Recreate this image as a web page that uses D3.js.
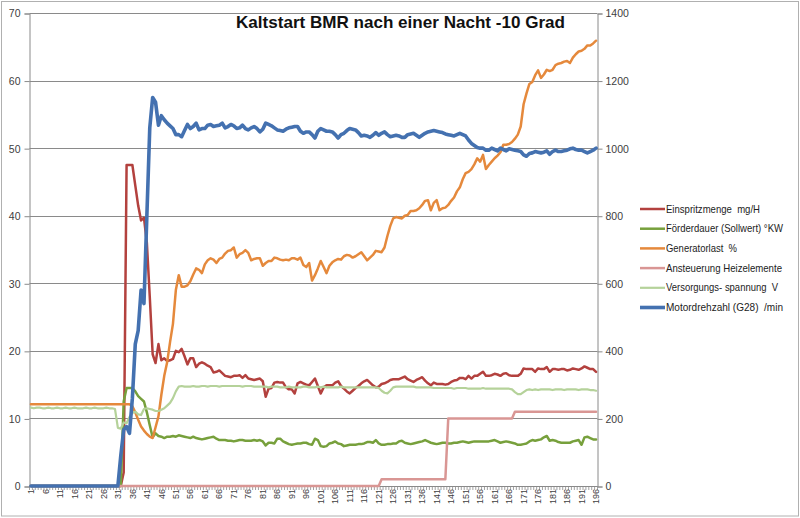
<!DOCTYPE html>
<html>
<head>
<meta charset="utf-8">
<script src="https://cdn.jsdelivr.net/npm/d3@7"></script>
<style>
  body { margin: 0; background: #fff; }
  text { font-family: "Liberation Sans", Arial, sans-serif; }
</style>
</head>
<body>
<svg id="chart" width="800" height="518"></svg>
<script>
// measurement index 1..196
var categories = d3.range(1, 197);

// left axis / right axis ticks
var leftTicks = [0, 10, 20, 30, 40, 50, 60, 70];
var rightTicks = [0, 200, 400, 600, 800, 1000, 1200, 1400];

// Einspritzmenge mg/H
var einspritzmenge = [
  0,0,0,0,0,0,0,0,0,0, 0,0,0,0,0,0,0,0,0,0, 0,0,0,0,0,0,0,0,0,0, 0,0,
  2,47.5,47.5,47.5,44.5,41.5,39.3,39.7,36,28,
  19.5,18.2,21,18.6,18.9,18.5,18.6,18.8,20,19.8,
  20.3,19.2,18,18.9,18.9,17.6,18.1,18.3,18.1,17.8,
  17.6,16.8,16.9,17.1,16.7,16.3,16.2,16.1,16.3,16.3,
  16.4,16.0,16.4,15.9,15.8,15.7,15.8,15.9,15.5,13.2,
  14.4,14.5,15.3,15.4,15.3,15.3,14.6,14.3,14.3,13.7,
  15.2,15.4,15.2,15.0,14.9,15.4,15.9,14.8,13.7,14.6,
  14.9,14.9,14.9,15.3,15.5,14.8,14.4,14.0,13.7,14.1,
  14.5,14.8,15.2,15.5,15.7,15.3,14.9,14.6,14.7,15.1,
  15.2,15.4,15.7,15.8,15.8,15.8,16.0,16.2,15.8,15.6,
  15.4,15.7,15.9,16.1,15.6,15.2,14.9,15.3,15.1,15.1,
  15.1,15.0,15.1,15.4,15.6,15.7,16.0,16.0,15.8,16.3,
  15.9,16.3,16.3,16.6,16.9,16.3,16.3,16.4,16.6,16.5,
  16.3,16.6,16.7,16.4,16.3,16.3,16.3,16.6,17.4,17.3,
  17.3,17.3,16.9,17.4,17.3,17.3,17.6,16.9,17.3,17.3,
  17.2,17.3,17.3,17.1,17.2,17.4,17.3,17.2,17.4,17.7,
  17.5,17.3,17.3,16.9
];

// Förderdauer (Sollwert) °KW
var foerderdauer = [
  0,0,0,0,0,0,0,0,0,0, 0,0,0,0,0,0,0,0,0,0, 0,0,0,0,0,0,0,0,0,0, 0,0,
  12.5,14.5,14.5,14.5,14.0,13.3,12.9,12.5,10.9,9.0,
  7.2,7.8,7.4,7.3,7.1,7.3,7.3,7.4,7.3,7.5,
  7.4,7.3,7.2,7.1,7.3,7.1,7.0,6.9,7.0,7.1,
  7.2,7.3,7.0,6.8,6.8,6.8,6.7,6.7,6.6,6.7,
  6.8,6.8,6.7,6.7,6.7,6.8,6.7,6.8,6.6,6.0,
  6.4,6.4,6.3,7.0,7.0,6.6,6.4,6.2,6.1,6.2,
  6.3,6.3,6.4,6.4,6.2,6.1,7.0,6.8,5.9,5.8,
  5.9,6.3,6.4,6.6,6.3,6.2,5.9,6.0,6.1,6.1,
  6.1,6.2,6.2,6.3,6.5,6.5,6.4,6.8,6.3,6.1,
  6.1,6.2,6.2,6.3,6.3,6.6,6.7,6.4,6.3,6.2,
  6.3,6.4,6.5,6.6,6.8,6.6,6.4,6.3,6.2,6.3,
  6.4,6.4,6.3,6.3,6.4,6.4,6.5,6.6,6.5,6.4,
  6.5,6.6,6.6,6.6,6.6,6.6,6.6,6.7,6.8,6.6,
  6.4,6.5,6.6,6.5,6.4,6.3,6.1,6.1,6.2,6.3,
  6.6,6.8,6.7,6.8,6.9,7.2,7.4,6.7,6.8,6.7,
  6.5,6.4,6.4,6.4,6.4,6.6,6.7,6.8,6.1,7.2,
  7.3,7.1,6.9,6.9
];

// Generatorlast %
var generatorlast = [
  12.1,12.1,12.1,12.1,12.1,12.1,12.1,12.1,12.1,12.1,
  12.1,12.1,12.1,12.1,12.1,12.1,12.1,12.1,12.1,12.1,
  12.1,12.1,12.1,12.1,12.1,12.1,12.1,12.1,12.1,12.1,
  12.1,12.1,12.1,12.1,12.1,
  11.8,10.9,9.8,8.8,8.2,7.7,7.3,7.1,8.7,10.3,
  13.5,16.3,18.3,21.3,24,29,31.2,29.5,29.5,29.7,
  30.3,31.3,32.2,32.0,31.5,32.8,33.4,33.7,33.5,33.0,
  33.6,33.8,34.4,34.8,34.9,35.3,33.8,34.3,34.5,34.9,
  34.5,33.4,33.6,33.7,33.7,32.6,33.0,33.3,33.3,33.8,
  33.7,33.5,33.4,33.5,33.4,33.7,33.7,33.5,33.8,32.7,
  32.4,33.0,30.4,31.2,32.2,33.3,32.4,31.5,32.6,33.1,
  33.4,33.6,33.5,34.0,34.2,34.1,33.8,34.0,34.3,34.6,
  34.0,33.4,33.8,34.2,34.8,34.7,34.6,35.3,37.0,38.5,
  39.6,39.8,39.7,39.6,40.0,40.1,40.7,40.7,40.8,41.1,
  41.6,42.2,42.3,40.8,41.9,42.3,40.8,41.1,41.2,41.6,
  42.2,42.7,43.6,44.2,45.4,46.3,46.5,46.9,47.6,48.5,
  48.0,49.0,46.9,47.5,48.0,48.5,48.9,49.4,50.5,50.5,
  50.6,50.9,51.4,52.0,53.2,56.5,58.1,59.5,59.8,60.8,
  61.5,60.4,60.9,61.6,61.4,61.6,62.3,62.5,62.6,62.8,
  62.9,62.6,63.4,63.9,64.3,64.4,64.7,65.2,65.2,65.5,
  65.9
];

// Ansteuerung Heizelemente (secondary axis)
var heizelemente = [
  0,0,0,0,0,0,0,0,0,0, 0,0,0,0,0,0,0,0,0,0, 0,0,0,0,0,0,0,0,0,0,
  0,0,0,0,0,0,0,0,0,0, 0,0,0,0,0,0,0,0,0,0, 0,0,0,0,0,0,0,0,0,0,
  0,0,0,0,0,0,0,0,0,0, 0,0,0,0,0,0,0,0,0,0, 0,0,0,0,0,0,0,0,0,0,
  0,0,0,0,0,0,0,0,0,0, 0,0,0,0,0,0,0,0,0,0, 0,0,0,0,0,0,0,0,0,0,
  0,
  20,20,20,20,20,20,20,20,20,20, 20,20,20,20,20,20,20,20,20,20, 20,20,20,
  200,200,200,200,200,200,200,200,200,200, 200,200,200,200,200,200,200,200,200,200, 200,200,200,
  220,220,220,220,220,220,220,220,220,220, 220,220,220,220,220,220,220,220,220,220,
  220,220,220,220,220,220,220,220,220
];

// Versorgungsspannung V
var versorgung = [
  11.6,11.5,11.6,11.6,11.5,11.5,11.6,11.5,11.5,11.6,
  11.5,11.5,11.6,11.5,11.5,11.6,11.5,11.5,11.5,11.6,
  11.5,11.5,11.6,11.5,11.5,11.5,11.6,11.5,11.5,11.4,
  8.6,8.5,9.4,9.3,10.2,10.8,11.0,10.6,10.5,11.4,
  11.5,11.4,11.3,11.1,11.1,11.3,11.5,11.9,12.3,13.0,
  14.0,14.7,14.8,14.7,14.7,14.7,14.8,14.7,14.7,14.8,
  14.8,14.7,14.8,14.8,14.8,14.7,14.8,14.8,14.8,14.8,
  14.8,14.8,14.8,14.7,14.8,14.8,14.8,14.7,14.7,14.7,
  14.7,14.7,14.6,14.7,14.7,14.7,14.6,14.6,14.6,14.7,
  14.6,14.6,14.6,14.6,14.7,14.7,14.6,14.6,14.6,14.7,
  14.6,14.7,14.6,14.6,14.6,14.6,14.6,14.7,14.6,14.6,
  14.6,14.6,14.6,14.6,14.6,14.6,14.6,14.6,14.6,14.6,
  14.5,14.1,13.8,13.7,14.1,14.6,14.7,14.7,14.7,14.7,
  14.7,14.7,14.7,14.6,14.6,14.6,14.6,14.6,14.6,14.5,
  14.5,14.5,14.5,14.5,14.5,14.5,14.4,14.5,14.5,14.5,
  14.5,14.4,14.4,14.4,14.4,14.4,14.5,14.4,14.4,14.4,
  14.4,14.4,14.4,14.4,14.4,14.4,14.3,13.9,13.6,13.6,
  13.9,14.2,14.3,14.2,14.3,14.2,14.3,14.3,14.3,14.3,
  14.2,14.3,14.3,14.3,14.2,14.3,14.3,14.3,14.3,14.2,
  14.3,14.3,14.3,14.2,14.2,14.1
];

// Motordrehzahl (G28) /min (secondary axis)
var drehzahl = [
  0,0,0,0,0,0,0,0,0,0, 0,0,0,0,0,0,0,0,0,0, 0,0,0,0,0,0,0,0,0,0, 0,
  90,166,176,156,260,420,460,580,540,
  800,1060,1150,1136,1068,1096,1084,1074,1066,1058,
  1040,1040,1034,1052,1070,1058,1064,1074,1054,1058,
  1058,1068,1070,1064,1066,1068,1074,1060,1064,1070,
  1066,1058,1060,1068,1058,1054,1060,1064,1058,1048,
  1056,1074,1070,1066,1060,1054,1052,1050,1056,1060,
  1062,1064,1064,1050,1044,1048,1048,1040,1030,1050,
  1058,1054,1050,1050,1048,1040,1030,1040,1044,1052,
  1058,1056,1054,1046,1036,1038,1036,1032,1038,1046,
  1038,1044,1048,1040,1034,1036,1038,1036,1032,1032,
  1040,1042,1044,1038,1032,1038,1044,1048,1050,1052,
  1050,1048,1046,1042,1040,1038,1036,1040,1044,1040,
  1036,1024,1014,1008,1002,1000,1000,994,994,1000,
  996,992,1000,996,992,998,996,994,992,990,
  980,976,984,986,990,988,986,988,992,982,
  990,994,990,990,992,994,998,1000,996,994,
  994,990,986,990,994,1000
];

var svg = d3.select("#chart");

// outer chart border
svg.append("rect")
  .attr("x", 1.5).attr("y", 1.5)
  .attr("width", 797).attr("height", 514.5)
  .attr("fill", "none")
  .attr("stroke", "#b0b0b0");

var plot = {left: 29.5, right: 597.5, top: 13, bottom: 486};

var x = d3.scaleBand()
  .domain(categories)
  .range([plot.left, plot.right]);

var yL = d3.scaleLinear().domain([0, 70]).range([plot.bottom, plot.top]);
var yR = d3.scaleLinear().domain([0, 1400]).range([plot.bottom, plot.top]);

// gridlines
svg.append("g")
  .selectAll("line")
  .data(leftTicks.slice(1))
  .enter().append("line")
    .attr("x1", plot.left).attr("x2", plot.right)
    .attr("y1", function(d) { return Math.round(yL(d)) + 0.5; })
    .attr("y2", function(d) { return Math.round(yL(d)) + 0.5; })
    .attr("stroke", "#8a8a8a");

// left axis
var leftAxis = svg.append("g")
  .attr("transform", "translate(" + plot.left + ",0.5)")
  .call(d3.axisLeft(yL).tickValues(leftTicks).tickSize(5).tickPadding(4));
// right axis
var rightAxis = svg.append("g")
  .attr("transform", "translate(" + plot.right + ",0.5)")
  .call(d3.axisRight(yR).tickValues(rightTicks).tickFormat(d3.format("d")).tickSize(5).tickPadding(3));

[leftAxis, rightAxis].forEach(function(a) {
  a.select(".domain").attr("stroke", "#8a8a8a");
  a.selectAll(".tick line").attr("stroke", "#8a8a8a");
  a.selectAll(".tick text")
    .style("font-size", "10.5px")
    .attr("fill", "#404040");
});

// x axis: line, a tick at every category boundary, a label every 5th
var xg = svg.append("g");
xg.append("line")
  .attr("x1", plot.left).attr("x2", plot.right)
  .attr("y1", plot.bottom + 0.5).attr("y2", plot.bottom + 0.5)
  .attr("stroke", "#8a8a8a");
xg.selectAll(".xt")
  .data(categories.concat([null]))
  .enter().append("line")
    .attr("class", "xt")
    .attr("x1", function(d) { return d === null ? plot.right : x(d); })
    .attr("x2", function(d) { return d === null ? plot.right : x(d); })
    .attr("y1", plot.bottom).attr("y2", plot.bottom + 4)
    .attr("stroke", "#8a8a8a")
    .attr("stroke-width", 0.8);
xg.selectAll(".xl")
  .data(categories.filter(function(d) { return (d - 1) % 5 === 0; }))
  .enter().append("text")
    .attr("class", "xl")
    .attr("transform", function(d) {
      return "translate(" + (x(d) + x.bandwidth() / 2) + "," + (plot.bottom + 3) + ") rotate(-90)";
    })
    .attr("text-anchor", "end")
    .attr("dy", "0.35em")
    .style("font-size", "9px")
    .attr("fill", "#404040")
    .text(function(d) { return d; });

// series table
var series = [
  {name: "Einspritzmenge  mg/H", values: einspritzmenge, y: yL, color: "#b3413e", width: 2.5, legEnd: 760},
  {name: "Förderdauer (Sollwert) °KW", values: foerderdauer, y: yL, color: "#77a03c", width: 2.5, legEnd: 783},
  {name: "Generatorlast  %", values: generatorlast, y: yL, color: "#e5893c", width: 2.5, legEnd: 737},
  {name: "Ansteuerung Heizelemente", values: heizelemente, y: yR, color: "#d99694", width: 2.5, legEnd: 782},
  {name: "Versorgungs- spannung  V", values: versorgung, y: yL, color: "#b5d29a", width: 2.2, legEnd: 778},
  {name: "Motordrehzahl (G28)  /min", values: drehzahl, y: yR, color: "#4471b0", width: 3.6, legEnd: 783}
];

series.forEach(function(s) {
  var line = d3.line()
    .x(function(d, i) { return x(categories[i]) + x.bandwidth() / 2; })
    .y(function(d) { return s.y(d); });
  svg.append("path")
    .datum(s.values)
    .attr("d", line)
    .attr("fill", "none")
    .attr("stroke", s.color)
    .attr("stroke-width", s.width)
    .attr("stroke-linejoin", "round")
    .attr("stroke-linecap", "round");
});

// legend
var legend = svg.append("g");
series.forEach(function(s, i) {
  var ly = 209 + i * 19.7;
  legend.append("line")
    .attr("x1", 640).attr("x2", 665)
    .attr("y1", ly).attr("y2", ly)
    .attr("stroke", s.color)
    .attr("stroke-width", s.width);
  legend.append("text")
    .attr("x", 666)
    .attr("y", ly + 3.5)
    .style("font-size", "10.5px")
    .style("white-space", "pre")
    .attr("textLength", s.legEnd - 666)
    .attr("lengthAdjust", "spacingAndGlyphs")
    .attr("fill", "#222")
    .text(s.name);
});

// title
svg.append("text")
  .attr("x", 236)
  .attr("y", 28)
  .attr("textLength", 329)
  .attr("lengthAdjust", "spacingAndGlyphs")
  .style("font-size", "17px")
  .style("font-weight", "bold")
  .attr("fill", "#111")
  .text("Kaltstart BMR nach einer Nacht -10 Grad");
</script>
</body>
</html>
